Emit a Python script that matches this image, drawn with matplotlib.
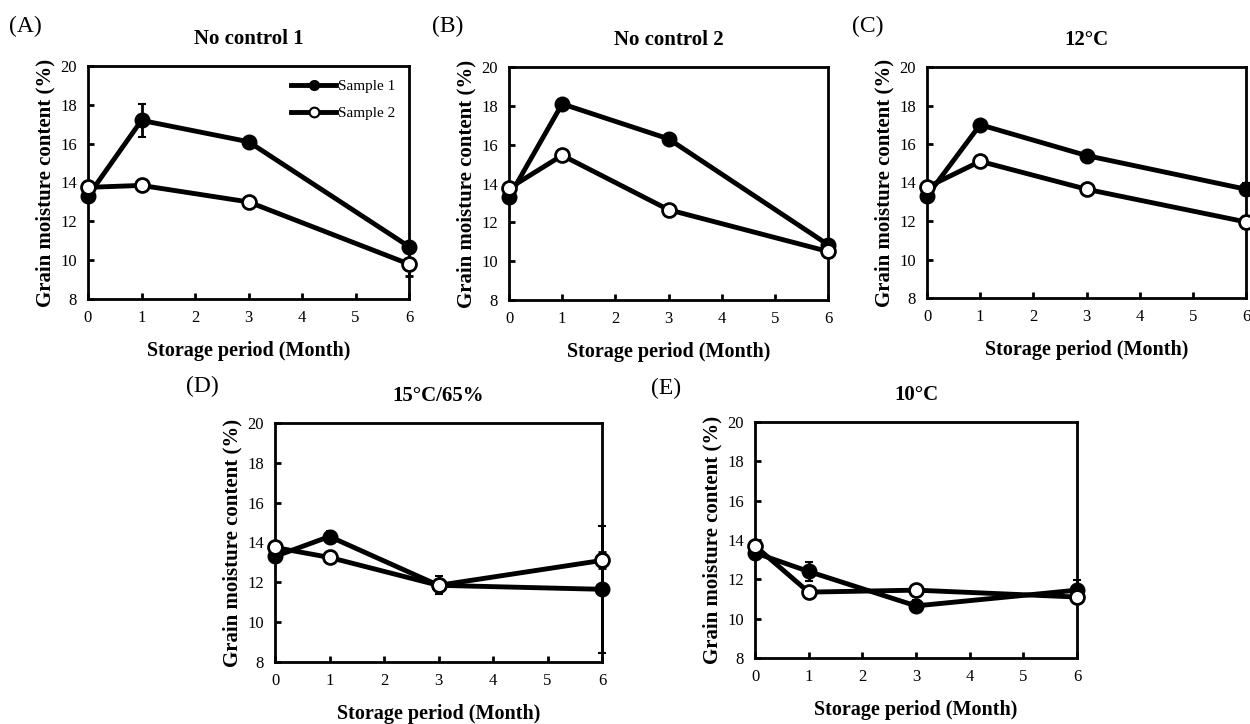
import matplotlib.pyplot as plt
from matplotlib.lines import Line2D

plt.rcParams['font.family'] = ['Liberation Serif', 'DejaVu Serif']

months = [0, 1, 3, 6]

# panel (A) No control 1
a_s1 = [13.3, 17.2, 16.1, 10.7]
a_s1_err = [0.2, 0.85, 0.25, 0.2]
a_s2 = [13.75, 13.85, 13.0, 9.8]
a_s2_err = [0.1, 0.2, 0.15, 0.6]

# panel (B) No control 2
b_s1 = [13.3, 18.1, 16.3, 10.85]
b_s1_err = [0.2, 0.2, 0.2, 0.2]
b_s2 = [13.75, 15.45, 12.65, 10.5]
b_s2_err = [0.1, 0.15, 0.15, 0.3]

# panel (C) 12 C
c_s1 = [13.3, 17.0, 15.4, 13.65]
c_s1_err = [0.2, 0.2, 0.25, 0.3]
c_s2 = [13.75, 15.1, 13.65, 11.95]
c_s2_err = [0.1, 0.15, 0.15, 0.3]

# panel (D) 15 C / 65 %
d_s1 = [13.3, 14.3, 11.85, 11.65]
d_s1_err = [0.2, 0.3, 0.45, 3.2]
d_s2 = [13.75, 13.25, 11.85, 13.1]
d_s2_err = [0.1, 0.15, 0.2, 0.4]

# panel (E) 10 C
e_s1 = [13.35, 12.4, 10.65, 11.45]
e_s1_err = [0.2, 0.5, 0.3, 0.5]
e_s2 = [13.7, 11.35, 11.45, 11.1]
e_s2_err = [0.1, 0.15, 0.1, 0.2]

titles = ['No control 1', 'No control 2', '12°C', '15°C/65%', '10°C']
tags = ['(A)', '(B)', '(C)', '(D)', '(E)']

panels = [
    (a_s1, a_s1_err, a_s2, a_s2_err),
    (b_s1, b_s1_err, b_s2, b_s2_err),
    (c_s1, c_s1_err, c_s2, c_s2_err),
    (d_s1, d_s1_err, d_s2, d_s2_err),
    (e_s1, e_s1_err, e_s2, e_s2_err),
]

W, H = 1250, 724
# axes boxes in pixels: left, top, right, bottom
boxes = [
    (88, 66, 409, 299),
    (509, 67, 828, 300),
    (927, 67, 1246, 298),
    (275, 423, 602, 662),
    (755, 422, 1077, 658),
]
tag_pos = [(25, 26), (448, 26), (868, 26), (202, 386), (666, 388)]

fig = plt.figure(figsize=(12.5, 7.24), dpi=100)

for i, (s1, s1e, s2, s2e) in enumerate(panels):
    l, t, r, b = boxes[i]
    ax = fig.add_axes([l / W, 1 - b / H, (r - l) / W, (b - t) / H])
    ax.errorbar(months, s1, yerr=s1e, color='black', lw=3.5, marker='o',
                ms=10, mfc='black', mec='black', mew=1.5, capsize=3,
                elinewidth=2, capthick=2, clip_on=False, zorder=3)
    ax.errorbar(months, s2, yerr=s2e, color='black', lw=3.5, marker='o',
                ms=10, mfc='white', mec='black', mew=2, capsize=3,
                elinewidth=2, capthick=2, clip_on=False, zorder=4)
    ax.set_xlim(0, 6)
    ax.set_ylim(8, 20)
    ax.set_xticks(range(0, 7))
    ax.set_yticks(range(8, 21, 2))
    ax.tick_params(direction='in', length=4, width=2, labelsize=12, pad=8)
    for sp in ax.spines.values():
        sp.set_linewidth(2)
    ax.set_xlabel('Storage period (Month)', fontsize=14.5, fontweight='bold', labelpad=11)
    ax.set_ylabel('Grain moisture content (%)', fontsize=15, fontweight='bold', labelpad=3)
    ax.set_title(titles[i], fontsize=15, fontweight='bold', pad=16)
    fig.text(tag_pos[i][0] / W, 1 - tag_pos[i][1] / H, tags[i], fontsize=17,
             ha='center', va='center')
    if i == 0:
        handles = [
            Line2D([], [], color='black', lw=3.5, marker='o', ms=7, mfc='black', mec='black'),
            Line2D([], [], color='black', lw=3.5, marker='o', ms=7, mfc='white', mec='black', mew=1.5),
        ]
        ax.legend(handles, ['Sample 1', 'Sample 2'], loc='upper right', frameon=False,
                  fontsize=11, handlelength=3.0, handletextpad=0.1, borderaxespad=0.6,
                  labelspacing=0.85, borderpad=0.3)

fig.savefig('out.png', dpi=100)
